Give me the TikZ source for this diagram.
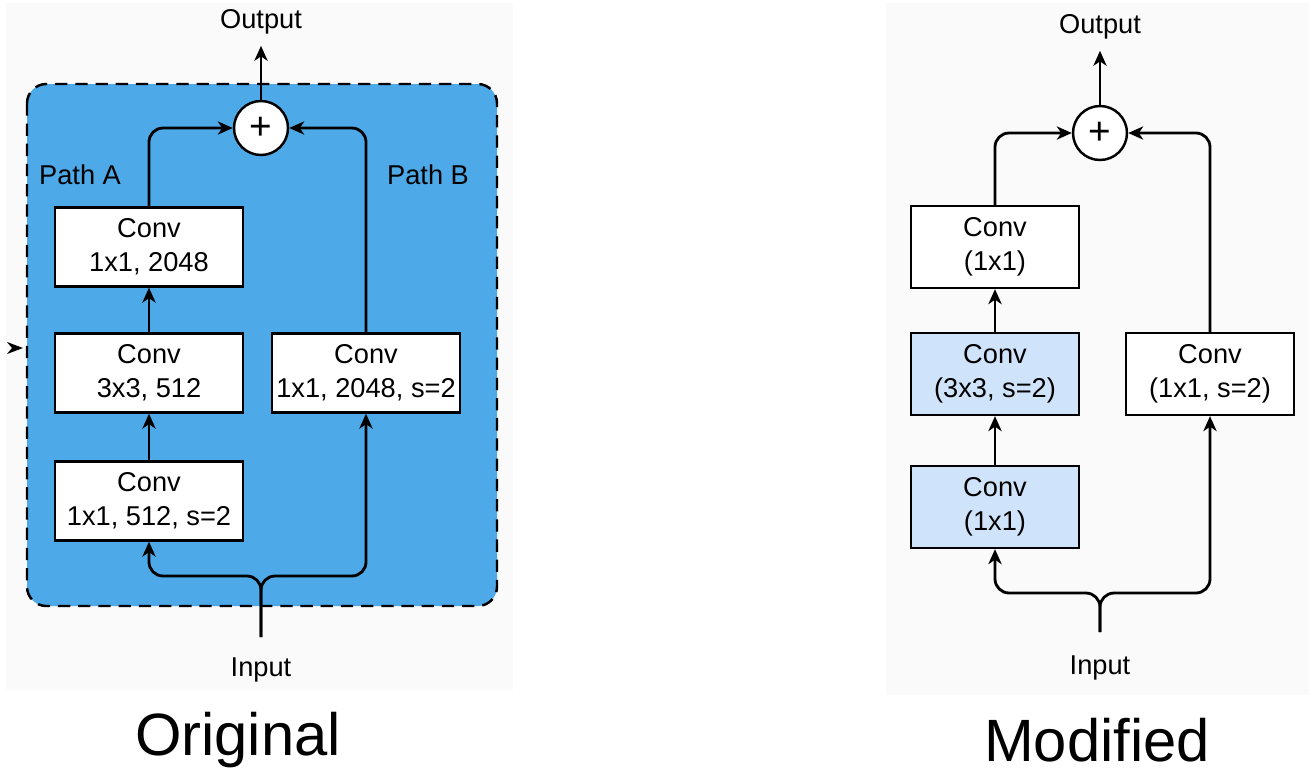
\documentclass[tikz,border=0pt]{standalone}
\usepackage{fontspec}
\setmainfont{Liberation Sans}
\usetikzlibrary{arrows.meta, positioning, calc}
\definecolor{blockblue}{HTML}{4DA9E7}
\definecolor{paleblue}{HTML}{CFE4FA}
\definecolor{panelgray}{HTML}{FAFAFA}

\begin{document}
\begin{tikzpicture}[x=0.02cm, y=-0.02cm,
    >={Stealth[length=8.5pt, width=7.5pt, inset=2.5pt]},
    lbl/.style={font=\fontsize{15.5}{19.4}\selectfont},
    convA/.style={draw, line width=1.3pt, fill=white, align=center,
      minimum width=3.76cm, minimum height=1.58cm, inner sep=0pt, lbl},
    convM/.style={convA, minimum width=3.36cm, minimum height=1.64cm},
    sumnode/.style={circle, draw, line width=1.4pt, fill=white,
      minimum size=1.08cm, inner sep=0pt, font=\fontsize{22}{24}\selectfont},
    link/.style={->, line width=1.6pt, rounded corners=8pt},
    title/.style={font=\fontsize{34}{40}\selectfont}]
  \useasboundingbox (0,0) rectangle (1309,775);

  % panel backgrounds
  \fill[panelgray] (6,3) rectangle (513,690);
  \fill[panelgray] (886,3) rectangle (1309,695);

  % Original block
  \draw[fill=blockblue, line width=1.4pt, dash pattern=on 7pt off 4.5pt,
    rounded corners=11pt] (27,84) rectangle (497,606);
  \fill (7,342) -- (23,348) -- (7,354) -- (12,348) -- cycle;

  \node[sumnode] (sumA) at (261,128) {+};
  \node[lbl] (outA) at (261,22) {Output};
  \node[lbl] (inA) at (261,670) {Input};
  \node[lbl] (pathA) at (80,175) {Path A};
  \node[lbl] (pathB) at (428,175) {Path B};

  \node[convA] (a3) at (149,247) {Conv\\1x1, 2048};
  \node[convA] (a2) at (149,373) {Conv\\3x3, 512};
  \node[convA] (a1) at (149,501) {Conv\\1x1, 512, s=2};
  \node[convA] (bA) at (366,373) {Conv\\1x1, 2048, s=2};

  \coordinate (stemA) at (261,637);
  \coordinate (brA) at (261,576);

  \draw[link] (stemA) |- (a1.south |- brA) -- (a1.south);
  \draw[link] (stemA) |- (bA.south |- brA) -- (bA.south);
  \draw[link] (a1.north) -- (a2.south);
  \draw[link] (a2.north) -- (a3.south);
  \draw[link] (a3.north) |- (sumA.west);
  \draw[link] (bA.north) |- (sumA.east);
  \draw[link, shorten >=3pt] (sumA.north) -- (outA.south);

  % Modified block
  \node[sumnode] (sumM) at (1100,133) {+};
  \node[lbl] (outM) at (1100,27) {Output};
  \node[lbl] (inM) at (1100,668) {Input};

  \node[convM] (m3) at (995,247) {Conv\\(1x1)};
  \node[convM, fill=paleblue] (m2) at (995,374) {Conv\\(3x3, s=2)};
  \node[convM, fill=paleblue] (m1) at (995,507) {Conv\\(1x1)};
  \node[convM] (bM) at (1210,374) {Conv\\(1x1, s=2)};

  \coordinate (stemM) at (1100,632);
  \coordinate (brM) at (1100,593);

  \draw[link] (stemM) |- (m1.south |- brM) -- (m1.south);
  \draw[link] (stemM) |- (bM.south |- brM) -- (bM.south);
  \draw[link] (m1.north) -- (m2.south);
  \draw[link] (m2.north) -- (m3.south);
  \draw[link] (m3.north) |- (sumM.west);
  \draw[link] (bM.north) |- (sumM.east);
  \draw[link, shorten >=3pt] (sumM.north) -- (outM.south);

  % captions
  \node[title] (capA) at (238,740) {Original};
  \node[title] (capM) at (1097,740) {Modified};
\end{tikzpicture}
\end{document}
